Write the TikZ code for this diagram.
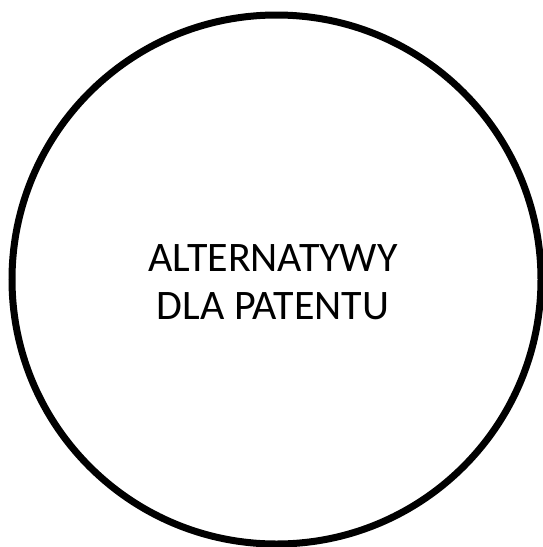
\documentclass[tikz,border=0pt]{standalone}
\usepackage{fontspec}
\setmainfont{Carlito}
\usetikzlibrary{positioning}

\begin{document}
\begin{tikzpicture}[x=1pt,y=-1pt,
  ring/.style={draw,circle,line width=7pt,minimum size=529pt,inner sep=0pt},
  lbl/.style={align=center,font=\fontsize{42}{48}\selectfont}]
  \useasboundingbox (0,0) rectangle (543,547);
  \node[ring] (c) at (276.5,279.5) {};
  \node[lbl] (t) at (273,282) {ALTERNATYWY\\DLA PATENTU};
\end{tikzpicture}
\end{document}
